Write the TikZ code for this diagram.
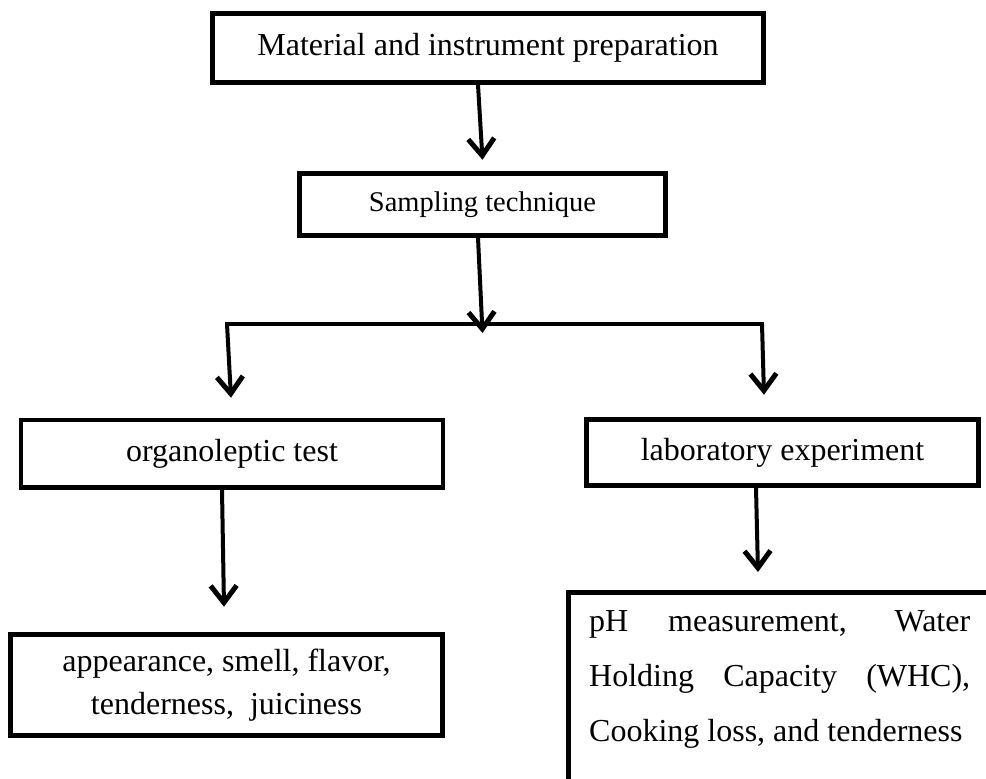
\documentclass[tikz,border=0pt]{standalone}
\usepackage{fontspec}
\setmainfont{Liberation Serif}
\usetikzlibrary{arrows.meta}
\begin{document}
\begin{tikzpicture}[x=1pt,y=-1pt,
  box/.style={draw, line width=4.5pt, inner sep=0pt, font=\fontsize{32}{40}\selectfont},
  arr/.style={line width=4pt, -{Straight Barb[length=17pt,width=26pt,line width=5pt]}},
  link/.style={line width=4.5pt, line cap=rect}]
\useasboundingbox (0,0) rectangle (986,779);
\node[box, minimum width=551pt, minimum height=69pt] (b1) at (488,48) {Material and instrument preparation};
\node[box, minimum width=366pt, minimum height=62pt, font=\fontsize{28.5}{34}\selectfont] (b2) at (482.5,204.5) {Sampling technique};
\node[box, minimum width=422pt, minimum height=67.5pt] (b3) at (232,453.75) {organoleptic test};
\node[box, minimum width=392pt, minimum height=66pt] (b4) at (782.5,452.5) {laboratory experiment};
\node[box, minimum width=432pt, minimum height=101pt, align=center, font=\fontsize{32}{43}\selectfont] (b5) at (226.5,685) {appearance, smell, flavor,\\tenderness,\ \ juiciness};
\coordinate (b6tl) at (568.5,592.5);
\draw[line width=4.5pt] (986,592.5) -- (b6tl) -- (568.5,779);
\node[anchor=north west, inner sep=0pt, align=left, font=\fontsize{32}{55}\selectfont] (b6) at (589,610)
  {\makebox[381pt][s]{pH measurement, Water}\\\makebox[381pt][s]{Holding Capacity (WHC),}\\Cooking loss, and tenderness};
\coordinate (jl) at (227,324);
\coordinate (jr) at (762,324);
\draw[arr] ([xshift=-10pt]b1.south) -- ([yshift=11.5pt]b2.north);
\draw[arr] ([xshift=-4.5pt]b2.south) -- ([yshift=-9pt]jl -| b2.south);
\draw[link] (jl) -- (jr);
\draw[arr] (jl) -- ([xshift=-1pt,yshift=20pt]b3.north);
\draw[arr] (jr) -- ([xshift=-18.5pt,yshift=22.5pt]b4.north);
\draw[arr] ([xshift=-10pt]b3.south) -- ([xshift=-2.5pt,yshift=25.5pt]b5.north);
\draw[arr] ([xshift=-26.5pt]b4.south) -- ([xshift=189.5pt,yshift=20.5pt]b6tl);
\end{tikzpicture}
\end{document}
